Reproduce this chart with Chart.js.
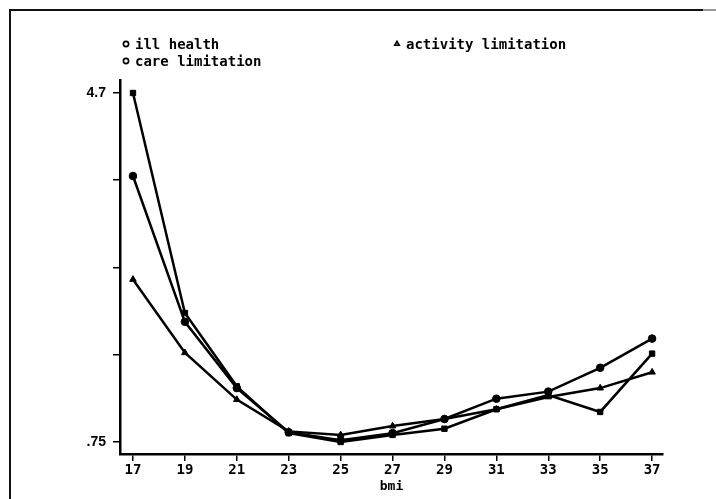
<!DOCTYPE html>
<html>
<head>
<meta charset="utf-8">
<title>bmi</title>
<script src="https://cdn.jsdelivr.net/npm/chart.js@4.4.1/dist/chart.umd.min.js"></script>
<style>
  html, body { margin: 0; padding: 0; background: #fff; }
  #wrap { position: relative; width: 716px; height: 499px; overflow: hidden; }
  #frame { position: absolute; left: 9px; top: 9px; width: 692px; height: 495px;
           border-top: 2px solid #111; border-left: 2px solid #111; }
  #frame-tail { position: absolute; left: 703px; top: 9px; width: 13px; height: 2px; background: #999; }
  #bmi-canvas { position: absolute; left: 0; top: 0; }
</style>
</head>
<body>
<div id="wrap">
  <div id="frame"></div>
  <div id="frame-tail"></div>
  <canvas id="bmi-canvas" width="716" height="499"></canvas>
</div>
<script>
    'use strict';

    // bmi categories (x axis)
    var bmi = [17, 19, 21, 23, 25, 27, 29, 31, 33, 35, 37];

    // series values
    var illHealth = [3.76, 2.11, 1.36, 0.86, 0.77, 0.85, 1.01, 1.24, 1.32, 1.59, 1.92];
    var careLimitation = [4.70, 2.21, 1.38, 0.85, 0.75, 0.83, 0.90, 1.12, 1.28, 1.09, 1.75];
    var activityLimitation = [2.59, 1.76, 1.23, 0.87, 0.83, 0.93, 1.01, 1.12, 1.26, 1.36, 1.54];

    // y ticks: 5 marks, only the ends labelled
    var yTicks = [0.75, 1.7375, 2.725, 3.7125, 4.7];
    var yTickLabels = ['.75', '', '', '', '4.7'];

    var seriesNames = ['ill health', 'activity limitation', 'care limitation'];

    function toPoints(values) {
        var pts = [];
        for (var i = 0; i < bmi.length; i++) {
            pts.push({x: bmi[i], y: values[i]});
        }
        return pts;
    }

    function lineSet(label, values, style, radius) {
        return {
            label: label,
            data: toPoints(values),
            borderColor: '#000',
            backgroundColor: '#000',
            borderWidth: 2.5,
            pointStyle: style,
            pointRadius: radius,
            pointBorderWidth: 1,
            tension: 0,
            clip: false
        };
    }

    // legend laid out like the original (two columns, filled down)
    var legendPlugin = {
        id: 'stataLegend',
        afterDraw: function(chart) {
            var ctx = chart.ctx;
            var spots = [
                {ds: 0, x: 126, y: 44},
                {ds: 2, x: 126, y: 61},
                {ds: 1, x: 397, y: 44}
            ];
            ctx.save();
            ctx.font = 'bold 14px "DejaVu Sans Mono"';
            ctx.textBaseline = 'middle';
            ctx.textAlign = 'left';
            spots.forEach(function(s) {
                var ds = chart.data.datasets[s.ds];
                ctx.fillStyle = '#fff';
                ctx.strokeStyle = '#000';
                ctx.lineWidth = 1.6;
                Chart.helpers.drawPoint(ctx, {
                    pointStyle: ds.pointStyle === 'triangle' ? 'triangle' : 'circle',
                    radius: 2.6,
                    rotation: 0,
                    borderWidth: 1.6
                }, s.x, s.y);
                ctx.fillStyle = '#000';
                ctx.fillText(ds.label, s.x + 9, s.y + 1);
            });
            ctx.restore();
        }
    };

    var ctx = document.getElementById('bmi-canvas').getContext('2d');
    var chartObj = new Chart(ctx, {
        type: 'line',
        data: {
            datasets: [
                lineSet(seriesNames[0], illHealth, 'circle', 3.8),
                lineSet(seriesNames[1], activityLimitation, 'triangle', 3.8),
                lineSet(seriesNames[2], careLimitation, 'rect', 3.8)
            ]
        },
        options: {
            responsive: false,
            animation: false,
            layout: {
                padding: {left: 0, right: 53, top: 80, bottom: 0}
            },
            plugins: {
                legend: {display: false},
                tooltip: {enabled: false}
            },
            scales: {
                x: {
                    type: 'linear',
                    min: 16.5,
                    max: 37.42,
                    afterBuildTicks: function(scale) {
                        scale.ticks = bmi.map(function(v) { return {value: v}; });
                    },
                    afterFit: function(scale) { scale.height = 45; },
                    grid: {
                        drawOnChartArea: false,
                        drawTicks: true,
                        tickLength: 7,
                        color: '#000',
                        lineWidth: 1.5
                    },
                    border: {display: true, color: '#000', width: 2.5},
                    ticks: {
                        color: '#000',
                        padding: 1,
                        maxRotation: 0,
                        autoSkip: false,
                        font: {family: '"DejaVu Sans Mono"', size: 14, weight: 'bold'},
                        callback: function(v) { return String(v); }
                    },
                    title: {
                        display: true,
                        text: 'bmi',
                        color: '#000',
                        padding: {top: 0, bottom: 5},
                        font: {family: '"DejaVu Sans Mono"', size: 13, weight: 'bold'}
                    }
                },
                y: {
                    type: 'linear',
                    min: 0.614,
                    max: 4.847,
                    afterBuildTicks: function(scale) {
                        scale.ticks = yTicks.map(function(v) { return {value: v}; });
                    },
                    afterFit: function(scale) { scale.width = 120; },
                    grid: {
                        drawOnChartArea: false,
                        drawTicks: true,
                        tickLength: 7,
                        color: '#000',
                        lineWidth: 1.5
                    },
                    border: {display: true, color: '#000', width: 2.5},
                    ticks: {
                        color: '#000',
                        padding: 7,
                        autoSkip: false,
                        font: {family: 'Liberation Sans', size: 14, weight: 'bold'},
                        callback: function(v, i) { return yTickLabels[i]; }
                    }
                }
            }
        },
        plugins: [legendPlugin]
    });
</script>
</body>
</html>
